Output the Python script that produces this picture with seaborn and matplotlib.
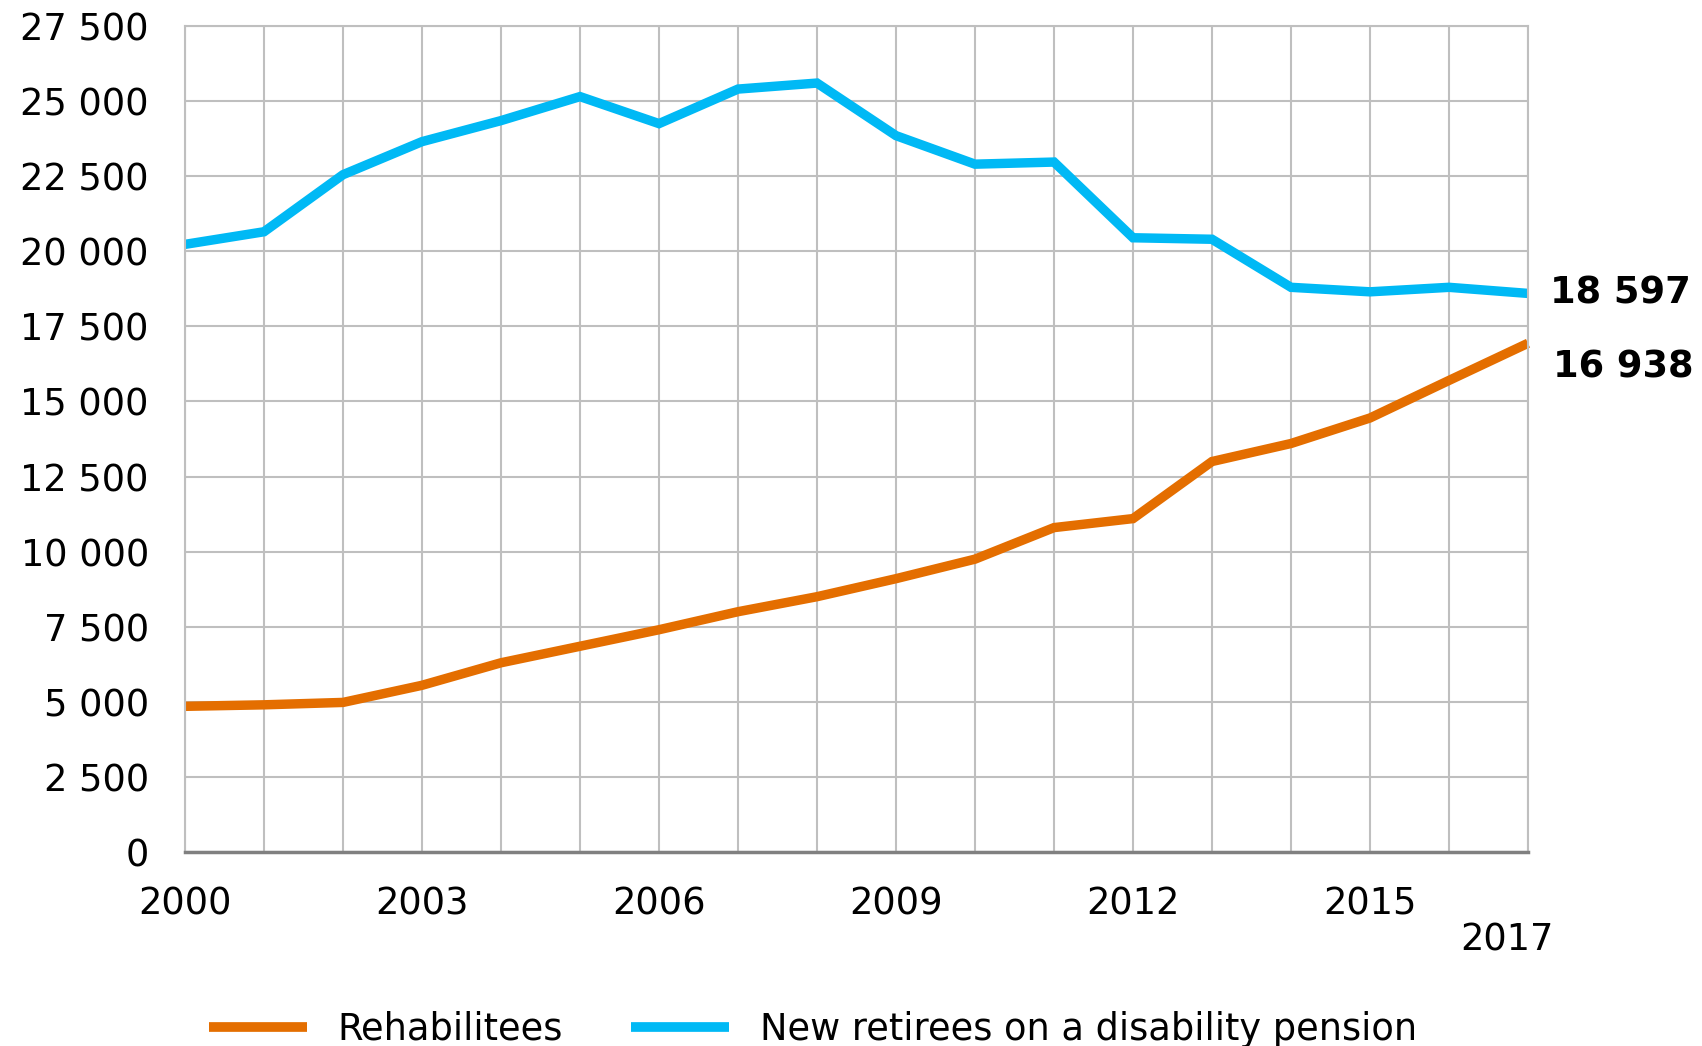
import matplotlib
matplotlib.use("Agg")
import matplotlib.pyplot as plt
from matplotlib.transforms import ScaledTranslation
from matplotlib.lines import Line2D
import seaborn as sns
import pandas as pd

years = list(range(2000, 2018))
rehabilitees = [4850, 4900, 4980, 5550, 6300, 6850, 7400, 8000, 8500, 9100,
                9750, 10800, 11100, 13000, 13600, 14450, 15700, 16938]
new_retirees = [20230, 20650, 22550, 23650, 24350, 25150, 24250, 25400, 25600, 23850,
                22900, 22970, 20450, 20400, 18800, 18650, 18800, 18597]
series_names = ["Rehabilitees", "New retirees on a disability pension"]
colors = ["#E46E00", "#00B9F5"]
ytick_values = list(range(0, 27501, 2500))
ytick_labels = ["0", "2 500", "5 000", "7 500", "10 000", "12 500", "15 000",
                "17 500", "20 000", "22 500", "25 000", "27 500"]
xlabel_years = [2000, 2003, 2006, 2009, 2012, 2015, 2017]
end_labels = ["16 938", "18 597"]

df = pd.DataFrame({
    "year": years * 2,
    "value": rehabilitees + new_retirees,
    "series": [series_names[0]] * len(years) + [series_names[1]] * len(years),
})

sns.set_theme(style="white")
plt.rcParams["font.family"] = ["DejaVu Sans"]

FS = 26.5

fig = plt.figure(figsize=(17.02, 10.46), dpi=100)
ax = fig.add_axes([185 / 1702, 1 - 852 / 1046, (1528 - 185) / 1702, (852 - 26) / 1046])

sns.lineplot(data=df, x="year", y="value", hue="series", palette=colors,
             hue_order=series_names, linewidth=6.8, ax=ax, legend=False)
for ln in ax.lines:
    ln.set_solid_capstyle("butt")
    ln.set_solid_joinstyle("miter")
    ln.set_clip_on(False)

ax.set_xlim(2000, 2017)
ax.set_ylim(0, 27500)
ax.set_xlabel("")
ax.set_ylabel("")

ax.set_yticks(ytick_values)
ax.set_yticklabels(ytick_labels, fontsize=FS, color="#000000")
ax.set_xticks(years)
ax.set_xticklabels([str(y) if y in xlabel_years else "" for y in years],
                   fontsize=FS, color="#000000")

ax.grid(True, color="#bfbfbf", linewidth=1.5)
ax.set_axisbelow(True)
for s in ["top", "right", "left"]:
    ax.spines[s].set_color("#bfbfbf")
    ax.spines[s].set_linewidth(1.5)
ax.spines["bottom"].set_color("#808080")
ax.spines["bottom"].set_linewidth(2.5)

ax.tick_params(axis="x", direction="in", length=9, width=1.5, color="#808080", pad=24)
ax.tick_params(axis="y", length=0, pad=26)

for lab in ax.get_xticklabels():
    if lab.get_text() == "2017":
        lab.set_transform(lab.get_transform() + ScaledTranslation(-0.21, -0.36, fig.dpi_scale_trans))

ax.annotate(end_labels[1], xy=(years[-1], new_retirees[-1]), xytext=(16, 0),
            textcoords="offset points", ha="left", va="center",
            fontsize=FS, fontweight="bold", color="#000000", annotation_clip=False)
ax.annotate(end_labels[0], xy=(years[-1], rehabilitees[-1]), xytext=(18, -17),
            textcoords="offset points", ha="left", va="center",
            fontsize=FS, fontweight="bold", color="#000000", annotation_clip=False)

handles = [Line2D([0], [0], color=c, linewidth=7, solid_capstyle="butt") for c in colors]
fig.legend(handles, series_names, loc="center left",
           bbox_to_anchor=(209 / 1702, 1 - 1029 / 1046), ncol=2, frameon=False,
           fontsize=FS, labelcolor="#000000", handlelength=2.65, handletextpad=0.85,
           columnspacing=1.85, borderpad=0, borderaxespad=0)

fig.savefig("out.png", dpi=100)
